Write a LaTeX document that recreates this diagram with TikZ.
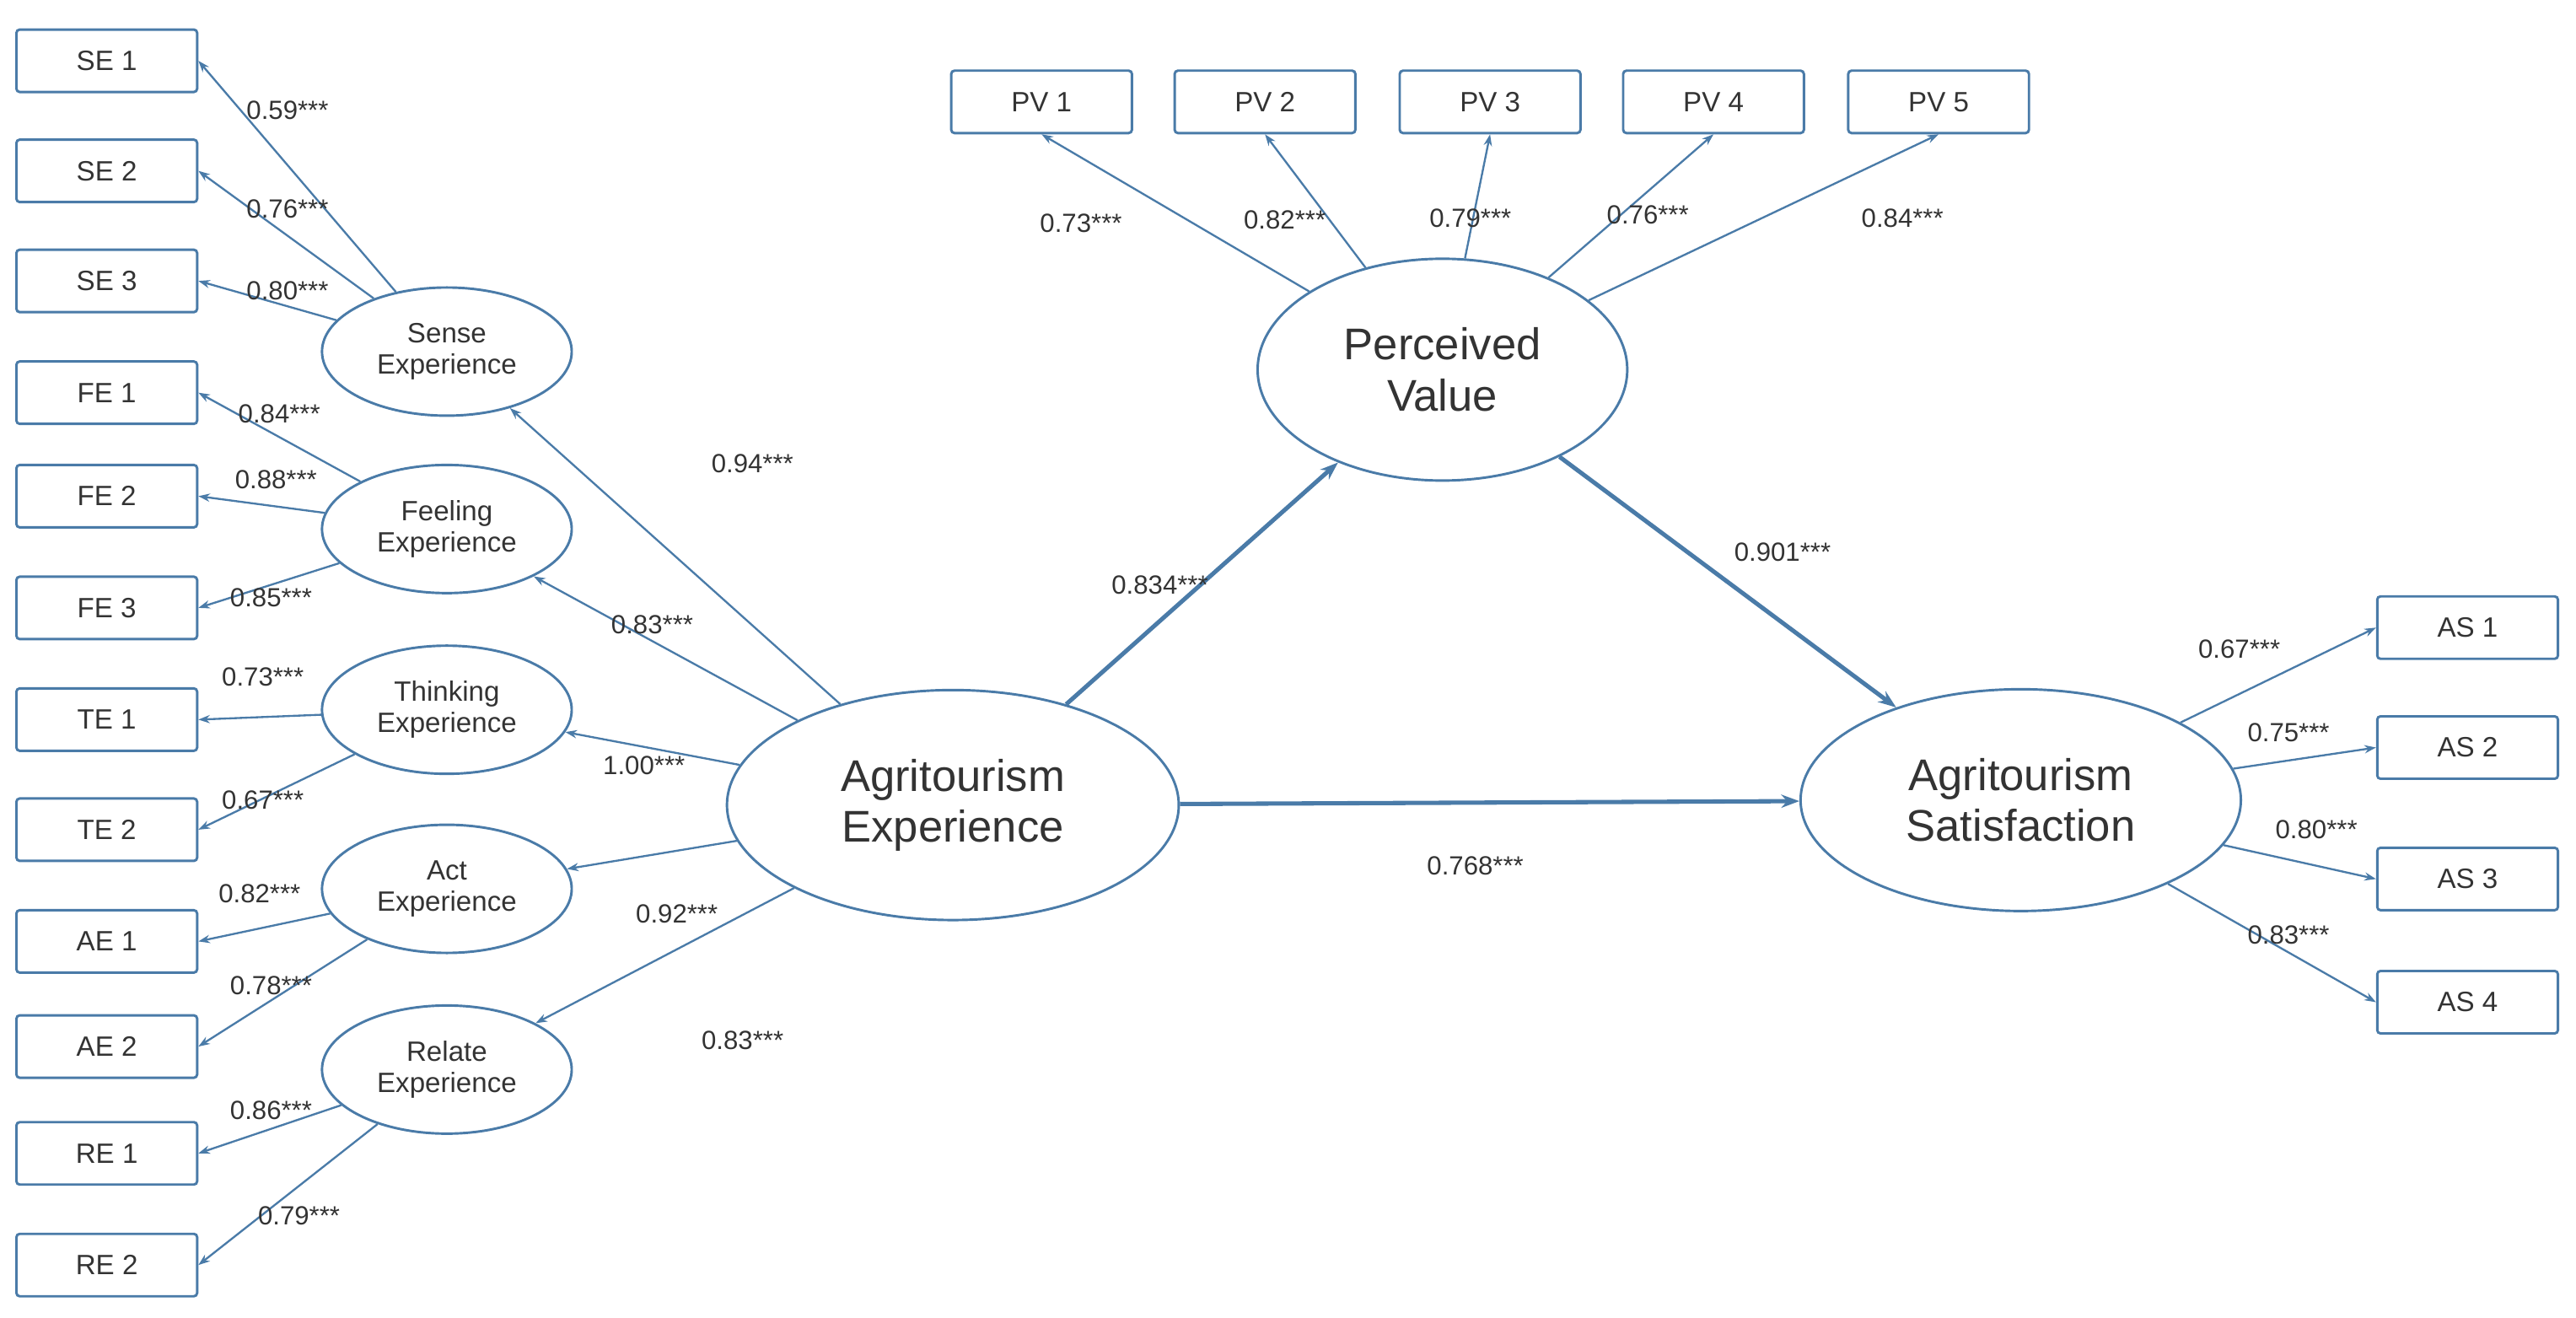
\documentclass[tikz,border=0pt]{standalone}
\usepackage{fontspec}
\setmainfont{Liberation Sans}
\usetikzlibrary{shapes.geometric,arrows.meta}
\definecolor{ln}{HTML}{4A7BA8}
\definecolor{tx}{HTML}{333333}
\begin{document}
\begin{tikzpicture}[x=1pt,y=-1pt,
 box/.style={draw=ln,line width=1.5pt,rounded corners=2pt,minimum width=110pt,minimum height=38pt,font=\fontsize{17}{18}\selectfont,text=tx},
 sm/.style={draw=ln,line width=1.5pt,ellipse,minimum width=152pt,minimum height=78pt,align=center,font=\fontsize{17}{19}\selectfont,inner sep=0pt,text=tx},
 big/.style={draw=ln,line width=1.5pt,ellipse,align=center,font=\fontsize{27}{31}\selectfont,inner sep=0pt,text=tx},
 ar/.style={draw=ln,line width=1.2pt,-{Stealth[length=7pt,width=5pt]}},
 th/.style={draw=ln,line width=2.6pt,-{Stealth[length=11pt,width=8pt]}},
 lb/.style={font=\fontsize{16}{18}\selectfont,text=tx,inner sep=0pt}]
\useasboundingbox (0,0) rectangle (1568,802);
% left indicators
\foreach \n/\y in {SE 1/37,SE 2/104,SE 3/171,FE 1/239,FE 2/302,FE 3/370,TE 1/438,TE 2/505,AE 1/573,AE 2/637,RE 1/702,RE 2/770}
  \node[box] (\n) at (65,\y) {\n};
\node[sm] (S) at (272,214) {Sense\\Experience};
\node[sm] (F) at (272,322) {Feeling\\Experience};
\node[sm] (T) at (272,432) {Thinking\\Experience};
\node[sm] (A) at (272,541) {Act\\Experience};
\node[sm] (R) at (272,651) {Relate\\Experience};
\node[big,minimum width=275pt,minimum height=140pt] (AEx) at (580,490) {Agritourism\\Experience};
\node[big,minimum width=225pt,minimum height=135pt] (PV) at (878,225) {Perceived\\Value};
\node[big,minimum width=268pt,minimum height=135pt] (AS) at (1230,487) {Agritourism\\Satisfaction};
\foreach \i/\x in {1/634,2/770,3/907,4/1043,5/1180}
  \node[box] (PV \i) at (\x,62) {PV \i};
\foreach \i/\y in {1/382,2/455,3/535,4/610}
  \node[box] (AS \i) at (1502,\y) {AS \i};
% measurement arrows
\foreach \a/\b in {S/SE 1,S/SE 2,S/SE 3,F/FE 1,F/FE 2,F/FE 3,T/TE 1,T/TE 2,A/AE 1,A/AE 2,R/RE 1,R/RE 2}
  \draw[ar] (\a) -- (\b.east);
\foreach \i in {1,...,5} \draw[ar] (PV) -- (PV \i.south);
\foreach \i in {1,...,4} \draw[ar] (AS) -- (AS \i.west);
\foreach \b in {S,F,T,A,R} \draw[ar] (AEx) -- (\b);
\draw[th] (AEx) -- (PV);
\draw[th] (PV) -- (AS);
\draw[th] (AEx) -- (AS);
% labels
\foreach \t/\x/\y in {0.59***/175/67,0.76***/175/127,0.80***/175/177,0.84***/170/252,0.88***/168/292,0.85***/165/364,0.73***/160/412,0.67***/160/487,0.82***/158/544,0.78***/165/600,0.86***/165/676,0.79***/182/740,
 0.94***/458/282,0.83***/397/380,1.00***/392/466,0.92***/412/556,0.83***/452/633,
 0.73***/658/136,0.82***/782/134,0.79***/895/133,0.76***/1003/131,0.84***/1158/133,
 0.834***/706/356,0.901***/1085/336,0.768***/898/527,
 0.67***/1363/395,0.75***/1393/446,0.80***/1410/505,0.83***/1393/569}
  \node[lb] at (\x,\y) {\t};
\end{tikzpicture}
\end{document}
